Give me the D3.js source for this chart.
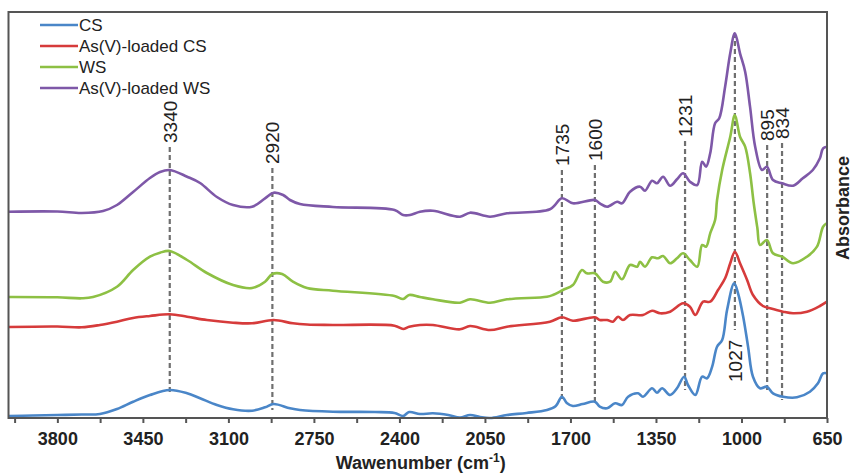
<!DOCTYPE html>
<html>
<head>
<meta charset="utf-8">
<script src="https://cdn.jsdelivr.net/npm/d3@7"></script>
<style>
  body { margin: 0; background: #fff; }
  svg { display: block; font-family: "Liberation Sans", Arial, sans-serif; }
</style>
</head>
<body>
<svg id="chart" width="853" height="474"></svg>
<script>
// [wavenumber (cm-1), absorbance (a.u., stacked offset)]
const cs = [
  [4000, 0.02], [3900, 0.025], [3800, 0.03], [3700, 0.035], [3626, 0.04], [3556, 0.09],
  [3490, 0.163], [3421, 0.23], [3340, 0.28], [3269, 0.247], [3216, 0.197], [3147, 0.13],
  [3081, 0.087], [3003, 0.073], [2950, 0.107], [2915, 0.14], [2848, 0.097], [2807, 0.08],
  [2672, 0.063], [2500, 0.06], [2420, 0.05], [2385, 0.02], [2360, 0.06], [2316, 0.04],
  [2263, 0.047], [2200, 0.03], [2152, 0.005], [2111, 0.03], [2070, 0.01], [2029, 0.0],
  [1960, 0.03], [1880, 0.05], [1796, 0.08], [1760, 0.12], [1735, 0.213], [1715, 0.15],
  [1690, 0.12], [1650, 0.14], [1600, 0.163], [1580, 0.113], [1550, 0.097], [1517, 0.147],
  [1489, 0.13], [1464, 0.213], [1423, 0.247], [1403, 0.213], [1366, 0.297], [1346, 0.253],
  [1325, 0.297], [1292, 0.23], [1264, 0.297], [1235, 0.413], [1219, 0.33], [1189, 0.23],
  [1161, 0.413], [1141, 0.397], [1120, 0.513], [1100, 0.713], [1079, 0.78], [1059, 1.08],
  [1030, 1.347], [1014, 1.247], [993, 1.013], [973, 0.713], [953, 0.413], [924, 0.297],
  [896, 0.313], [871, 0.247], [830, 0.213], [773, 0.207], [720, 0.263], [687, 0.347],
  [666, 0.447], [650, 0.447]
];

const csLoaded = [
  [4000, 0.91], [3800, 0.915], [3700, 0.907], [3626, 0.93], [3556, 0.963], [3490, 1.0],
  [3421, 1.02], [3340, 1.037], [3269, 1.013], [3188, 0.98], [3081, 0.953], [3003, 0.947],
  [2915, 0.98], [2836, 0.947], [2778, 0.935], [2672, 0.93], [2420, 0.923], [2385, 0.89],
  [2360, 0.913], [2316, 0.93], [2263, 0.93], [2152, 0.887], [2111, 0.92], [2029, 0.88],
  [1960, 0.913], [1784, 0.963], [1735, 1.007], [1690, 0.973], [1600, 1.007], [1580, 0.98],
  [1550, 0.98], [1526, 0.963], [1505, 1.013], [1485, 0.98], [1456, 1.03], [1403, 1.03],
  [1366, 1.073], [1333, 1.047], [1292, 1.063], [1239, 1.147], [1211, 1.113], [1189, 1.03],
  [1157, 1.163], [1128, 1.163], [1096, 1.28], [1067, 1.397], [1046, 1.547], [1027, 1.663],
  [1006, 1.547], [977, 1.38], [953, 1.23], [912, 1.12], [883, 1.097], [830, 1.063],
  [789, 1.047], [732, 1.063], [679, 1.12], [650, 1.163]
];

const ws = [
  [4000, 1.21], [3800, 1.207], [3700, 1.197], [3654, 1.21], [3556, 1.313], [3490, 1.48],
  [3421, 1.613], [3380, 1.653], [3340, 1.67], [3269, 1.58], [3188, 1.45], [3081, 1.33],
  [3003, 1.3], [2950, 1.363], [2920, 1.44], [2880, 1.44], [2836, 1.363], [2778, 1.3],
  [2672, 1.273], [2420, 1.22], [2385, 1.19], [2360, 1.23], [2316, 1.21], [2263, 1.187],
  [2152, 1.153], [2111, 1.187], [2029, 1.153], [1960, 1.187], [1796, 1.213], [1772, 1.23],
  [1731, 1.28], [1690, 1.33], [1653, 1.48], [1633, 1.447], [1600, 1.447], [1567, 1.363],
  [1538, 1.363], [1517, 1.463], [1489, 1.387], [1456, 1.53], [1427, 1.513], [1415, 1.563],
  [1395, 1.513], [1366, 1.607], [1342, 1.597], [1321, 1.62], [1292, 1.547], [1264, 1.597],
  [1239, 1.647], [1211, 1.58], [1181, 1.513], [1161, 1.73], [1145, 1.713], [1128, 1.847],
  [1108, 1.98], [1100, 2.18], [1079, 2.48], [1046, 2.813], [1027, 3.03], [1006, 2.813],
  [985, 2.713], [965, 2.45], [950, 2.15], [935, 1.9], [924, 1.73], [896, 1.78], [871, 1.647],
  [834, 1.613], [789, 1.547], [732, 1.613], [691, 1.713], [666, 1.913], [650, 1.95]
];

const wsLoaded = [
  [4000, 2.063], [3800, 2.065], [3700, 2.05], [3613, 2.07], [3556, 2.13], [3490, 2.26],
  [3421, 2.4], [3380, 2.46], [3340, 2.48], [3269, 2.413], [3216, 2.35], [3147, 2.21],
  [3081, 2.13], [3003, 2.113], [2950, 2.197], [2915, 2.253], [2876, 2.23], [2848, 2.18],
  [2807, 2.14], [2672, 2.11], [2420, 2.08], [2385, 2.03], [2357, 2.03], [2316, 2.063],
  [2263, 2.073], [2152, 2.013], [2111, 2.053], [2029, 2.013], [1960, 2.047], [1784, 2.087],
  [1735, 2.197], [1690, 2.147], [1600, 2.18], [1580, 2.147], [1550, 2.113], [1509, 2.163],
  [1489, 2.147], [1456, 2.263], [1415, 2.313], [1395, 2.273], [1366, 2.373], [1346, 2.347],
  [1321, 2.413], [1292, 2.323], [1264, 2.387], [1239, 2.447], [1211, 2.363], [1181, 2.33],
  [1161, 2.563], [1145, 2.513], [1128, 2.647], [1108, 2.947], [1091, 2.997], [1067, 3.313],
  [1046, 3.647], [1027, 3.847], [1006, 3.647], [985, 3.463], [965, 3.113], [944, 2.713],
  [916, 2.48], [896, 2.513], [871, 2.38], [834, 2.347], [789, 2.323], [749, 2.397],
  [708, 2.48], [679, 2.597], [666, 2.697], [650, 2.713]
];

const seriesNames = ['CS', 'As(V)-loaded CS', 'WS', 'As(V)-loaded WS'];
const seriesColors = ['#4a86c8', '#d63b3b', '#8dc044', '#7e58a8'];

// marked peaks: wavenumber, label, dashed line top/bottom (a.u.), label side
const peakWaves = [3340, 2920, 1735, 1600, 1231, 1027, 895, 834];
const peakTop = [2.71, 2.5, 2.48, 2.53, 2.77, 3.85, 2.73, 2.75];
const peakBottom = [0.25, 0.08, 0.18, 0.13, 0.28, 0.88, 0.25, 0.18];

const tickValues = d3.range(650, 4000, 175);
const tickLabels = [3800, 3450, 3100, 2750, 2400, 2050, 1700, 1350, 1000, 650];

const svg = d3.select('#chart');
const plot = { left: 8.5, right: 827, top: 12, bottom: 418 };

const x = d3.scaleLinear().domain([4000, 650]).range([plot.left, plot.right]);
const y = d3.scaleLinear().domain([0, 4.06]).range([plot.bottom, plot.top]);

const line = d3.line()
  .x(d => x(d[0]))
  .y(d => y(d[1]))
  .curve(d3.curveCatmullRom.alpha(0.5));

// dashed peak markers (behind the spectra)
peakWaves.forEach((w, i) => {
  svg.append('line')
    .attr('x1', x(w)).attr('x2', x(w))
    .attr('y1', y(peakTop[i])).attr('y2', y(peakBottom[i]))
    .attr('stroke', '#6f6f6f')
    .attr('stroke-width', 2.2)
    .attr('stroke-dasharray', '5,3');
});

[cs, csLoaded, ws, wsLoaded].forEach((data, i) => {
  svg.append('path')
    .datum(data)
    .attr('fill', 'none')
    .attr('stroke', seriesColors[i])
    .attr('stroke-width', 2.6)
    .attr('stroke-linejoin', 'round')
    .attr('d', line);
});

// peak labels, rotated
peakWaves.forEach((w, i) => {
  let yPos = y(peakTop[i]) - 4;
  if (w === 1027) yPos = y(0.36);
  svg.append('text')
    .attr('transform', `translate(${x(w)}, ${yPos}) rotate(-90)`)
    .attr('dy', '0.36em')
    .attr('font-size', 19)
    .attr('fill', '#222')
    .text(w);
});

// frame
svg.append('rect')
  .attr('x', plot.left).attr('y', plot.top)
  .attr('width', plot.right - plot.left)
  .attr('height', plot.bottom - plot.top)
  .attr('fill', 'none')
  .attr('stroke', '#555')
  .attr('stroke-width', 2);

// bottom axis
const xAxis = d3.axisBottom(x)
  .tickValues(tickValues)
  .tickSize(5)
  .tickFormat(d => tickLabels.includes(d) ? d : '');

const axisG = svg.append('g')
  .attr('transform', `translate(0, ${plot.bottom})`)
  .call(xAxis);
axisG.select('.domain').remove();
axisG.selectAll('.tick line').attr('stroke', '#555').attr('stroke-width', 2);
axisG.selectAll('.tick text')
  .attr('y', 14)
  .attr('font-size', 18)
  .attr('font-weight', 'bold')
  .attr('font-family', '"Liberation Sans", Arial, sans-serif')
  .attr('fill', '#222');

const xTitle = svg.append('text')
  .attr('x', (plot.left + plot.right) / 2 + 3)
  .attr('y', 469)
  .attr('text-anchor', 'middle')
  .attr('font-size', 18)
  .attr('font-weight', 'bold')
  .attr('fill', '#222');
xTitle.append('tspan').text('Wawenumber (cm');
xTitle.append('tspan').attr('font-size', 12).attr('dy', -7).text('-1');
xTitle.append('tspan').attr('dy', 7).text(')');

svg.append('text')
  .attr('transform', `translate(843, ${y(2.1)}) rotate(-90)`)
  .attr('text-anchor', 'middle')
  .attr('dy', '0.36em')
  .attr('font-size', 18)
  .attr('font-weight', 'bold')
  .attr('fill', '#222')
  .text('Absorbance');

// legend
const legend = svg.append('g');
seriesNames.forEach((name, i) => {
  const ly = 25 + i * 21;
  legend.append('line')
    .attr('x1', 40).attr('x2', 78)
    .attr('y1', ly).attr('y2', ly)
    .attr('stroke', seriesColors[i])
    .attr('stroke-width', 2.6);
  legend.append('text')
    .attr('x', 79)
    .attr('y', ly + 6)
    .attr('font-size', 17)
    .attr('fill', '#222')
    .text(name);
});
</script>
</body>
</html>
